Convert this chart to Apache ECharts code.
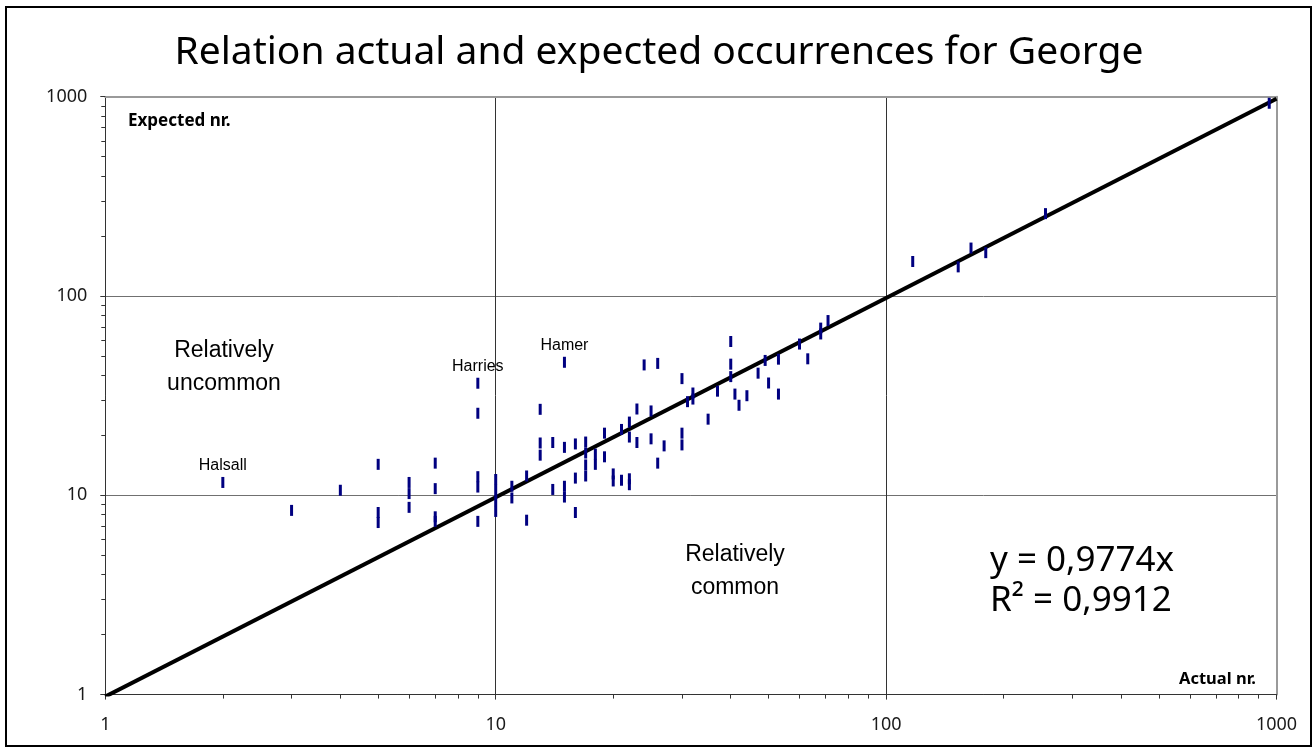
<!DOCTYPE html>
<html><head><meta charset="utf-8">
<script src="https://cdn.jsdelivr.net/npm/echarts@6/dist/echarts.min.js"></script>
<style>html,body{margin:0;padding:0;background:#fff}#c{width:1315px;height:749px}</style>
</head><body><div id="c"></div>
<script>
const titleText = 'Relation actual and expected occurrences for George';
const xAxisName = 'Actual nr.';
const yAxisName = 'Expected nr.';
const majorTicks = [1, 10, 100, 1000];
const minorTicks = [2, 3, 4, 5, 6, 7, 8, 9, 20, 30, 40, 50, 60, 70, 80, 90, 200, 300, 400, 500, 600, 700, 800, 900];

// surnames (actual nr. vs expected nr.)
const actualNr = [
  3, 4,
  5, 5, 5,
  6, 6, 6,
  7, 7, 7, 7,
  9, 9, 9, 9,
  10, 10, 10, 10,
  11, 11,
  12, 12,
  13, 13, 13,
  14, 14,
  15, 15, 15,
  16, 16, 16,
  17, 17, 17, 17,
  18, 18,
  19, 19,
  20, 20,
  21, 21,
  22, 22, 22, 22,
  23, 23,
  24,
  25, 25,
  26, 26,
  27,
  30, 30, 30,
  31,
  32, 32,
  35,
  37,
  40, 40, 40,
  41, 42, 44, 47, 49, 50,
  53, 53,
  60, 63, 68, 68, 71,
  117, 153, 165, 180, 256, 958
];
const expectedNr = [
  8.4, 10.6,
  14.3, 8.2, 7.3,
  11.6, 10.2, 8.7,
  14.5, 10.8, 7.8, 7.4,
  25.8, 12.4, 11.0, 7.4,
  12.0, 10.6, 9.4, 8.3,
  11.1, 9.7,
  12.5, 7.5,
  27.0, 18.3, 15.9,
  18.4, 10.7,
  17.4, 11.1, 9.8,
  18.1, 12.2, 8.2,
  18.5, 16.3, 14.2, 12.5,
  16.1, 14.3,
  20.5, 15.6,
  12.8, 11.8,
  21.4, 11.9,
  23.3, 19.6, 12.1, 11.3,
  27.1, 18.4,
  45.1,
  26.5, 19.2,
  45.9, 14.5,
  17.7,
  38.5, 20.5, 17.9,
  29.5,
  32.6, 30.4,
  24.1,
  33.3,
  59.1, 45.5, 39.4,
  32.2, 28.3, 31.6, 41.0, 47.5, 36.6,
  48.2, 32.2,
  57.4, 48.4, 64.5, 69.0, 75.3,
  149, 140, 174, 165, 259, 927
];

// named outliers
const namedLabels = ['Halsall', 'Harries', 'Hamer'];
const namedActual = [2, 9, 15];
const namedExpected = [11.6, 36.5, 46.5];

// trendline
const trendSlope = 0.9774;
const rSquared = 0.9912;
const trendX = [1, 1000];

const regionTexts = ['Relatively\nuncommon', 'Relatively\ncommon'];

const fmtComma = v => String(v).replace('.', ',');
const eqLine1 = 'y = ' + fmtComma(trendSlope) + 'x';
const eqLine2 = 'R\u00B2 = ' + fmtComma(rSquared);

const mainPts = actualNr.map((x, i) => [x, expectedNr[i]]);
const namedPts = namedActual.map((x, i) => [x, namedExpected[i]]);
const trendPts = trendX.map(x => [x, trendSlope * x]);

const chart = echarts.init(document.getElementById('c'));
const axisFont = {fontFamily: 'Noto Sans', fontSize: 18, color: '#1a1a1a'};
const markerStyle = {color: '#000080', opacity: 1};

chart.setOption({
  animation: false,
  backgroundColor: '#fff',
  grid: {left: 105.3, right: 38.5, top: 96.7, bottom: 54.4, containLabel: false},
  xAxis: [
    {
      type: 'log', logBase: 10, min: 1, max: 1000, position: 'bottom',
      axisLine: {show: true, onZero: false, lineStyle: {color: '#333', width: 1}},
      axisTick: {show: true, length: 5, lineStyle: {color: '#333'}},
      axisLabel: Object.assign({margin: 21, customValues: majorTicks, formatter: v => String(Math.round(v))}, axisFont),
      splitLine: {show: true, lineStyle: {color: '#333', width: 1}}
    },
    {
      type: 'log', logBase: 10, min: 1, max: 1000, position: 'bottom',
      axisLine: {show: false},
      axisTick: {show: true, length: 4, customValues: minorTicks, lineStyle: {color: '#333'}},
      axisLabel: {show: false},
      splitLine: {show: false}
    },
    {
      type: 'log', logBase: 10, min: 1, max: 1000, position: 'top',
      axisLine: {show: true, onZero: false, lineStyle: {color: '#9a9a9a', width: 2}},
      axisTick: {show: false}, axisLabel: {show: false}, splitLine: {show: false}
    }
  ],
  yAxis: [
    {
      type: 'log', logBase: 10, min: 1, max: 1000, position: 'left',
      axisLine: {show: true, onZero: false, lineStyle: {color: '#333', width: 1}},
      axisTick: {show: true, length: 5, lineStyle: {color: '#333'}},
      axisLabel: Object.assign({margin: 18, customValues: majorTicks, formatter: v => String(Math.round(v))}, axisFont),
      splitLine: {show: true, lineStyle: {color: '#707070', width: 1}}
    },
    {
      type: 'log', logBase: 10, min: 1, max: 1000, position: 'left',
      axisLine: {show: false},
      axisTick: {show: true, length: 4, customValues: minorTicks, lineStyle: {color: '#333'}},
      axisLabel: {show: false},
      splitLine: {show: false}
    },
    {
      type: 'log', logBase: 10, min: 1, max: 1000, position: 'right',
      axisLine: {show: true, onZero: false, lineStyle: {color: '#9a9a9a', width: 2}},
      axisTick: {show: false}, axisLabel: {show: false}, splitLine: {show: false}
    }
  ],
  series: [
    {
      type: 'line', data: trendPts, xAxisIndex: 0, yAxisIndex: 0,
      symbol: 'none', clip: true, silent: true, z: 2,
      lineStyle: {color: '#000', width: 4}
    },
    {
      type: 'scatter', data: mainPts, xAxisIndex: 0, yAxisIndex: 0,
      symbol: 'rect', symbolSize: [3, 11], itemStyle: markerStyle, z: 3
    },
    {
      type: 'scatter', data: namedPts, xAxisIndex: 0, yAxisIndex: 0,
      symbol: 'rect', symbolSize: [3, 11], itemStyle: markerStyle, z: 3,
      label: {
        show: true, position: 'top', distance: 3,
        formatter: p => namedLabels[p.dataIndex],
        fontFamily: 'Liberation Sans', fontSize: 16, color: '#000', opacity: 1
      }
    }
  ],
  graphic: [
    {type: 'rect', shape: {x: 6, y: 7, width: 1305, height: 739},
     style: {fill: 'none', stroke: '#000', lineWidth: 2}, z: 0, silent: true},
    {type: 'text', x: 659, y: 53, z: 10,
     style: {text: titleText, font: '39px "Noto Sans"', fill: '#000', align: 'center', verticalAlign: 'middle'}},
    {type: 'text', x: 128, y: 121.5, z: 10,
     style: {text: yAxisName, font: 'bold 17px "Noto Sans"', fill: '#000', align: 'left', verticalAlign: 'middle'}},
    {type: 'text', x: 1256, y: 679, z: 10,
     style: {text: xAxisName, font: 'bold 16.5px "Noto Sans"', fill: '#000', align: 'right', verticalAlign: 'middle'}},
    {type: 'text', x: 224, y: 367, z: 10,
     style: {text: regionTexts[0], font: '23px "Liberation Sans"', lineHeight: 33, fill: '#000', align: 'center', verticalAlign: 'middle'}},
    {type: 'text', x: 735, y: 571, z: 10,
     style: {text: regionTexts[1], font: '23px "Liberation Sans"', lineHeight: 33, fill: '#000', align: 'center', verticalAlign: 'middle'}},
    {type: 'text', x: 990, y: 561, z: 10,
     style: {text: eqLine1, font: '35px "Noto Sans"', fill: '#000', align: 'left', verticalAlign: 'middle'}},
    {type: 'text', x: 990, y: 601, z: 10,
     style: {text: eqLine2, font: '35px "Noto Sans"', fill: '#000', align: 'left', verticalAlign: 'middle'}}
  ]
});
</script>
</body></html>
